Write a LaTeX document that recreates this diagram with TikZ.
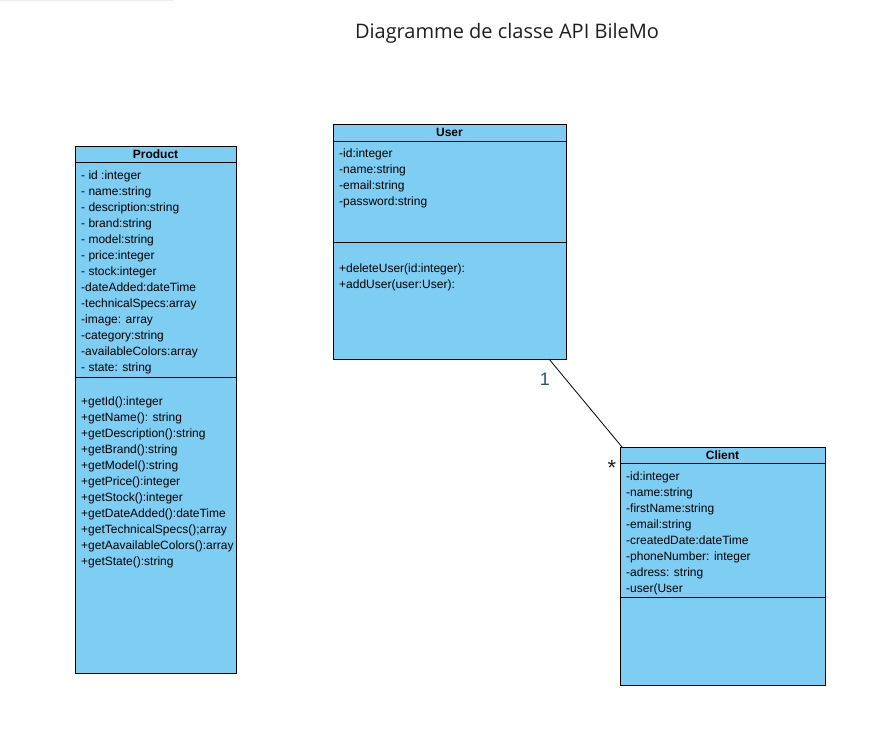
\documentclass[tikz,border=0pt]{standalone}
\usepackage{fontspec}
\setmainfont{Liberation Sans}
\newfontfamily\titlefont{Open Sans}
\definecolor{boxfill}{RGB}{126,206,244}
\definecolor{titlecol}{RGB}{30,30,30}
\definecolor{onecol}{RGB}{40,80,140}
\begin{document}
\begin{tikzpicture}[x=1pt,y=-1pt,
  box/.style={draw=black,fill=boxfill,line width=0.9pt,anchor=north west,inner sep=0pt,outer sep=0pt},
  hdr/.style={font=\fontsize{12}{14}\selectfont\bfseries,text=black},
  txt/.style={anchor=north west,inner sep=0pt,align=left,font=\fontsize{12}{16}\selectfont,text=black}]
\useasboundingbox (0,0) rectangle (895,732);
\draw[gray!15,line width=1pt] (0,0.5) -- (173,0.5);
\node[font=\titlefont\fontsize{20}{24}\selectfont,text=titlecol] (title) at (507,33) {Diagramme de classe API BileMo};
% Product
\node[box,minimum width=161pt,minimum height=16pt] (prodH) at (75,146) {};
\node[hdr] (prodHt) at (prodH.center) {Product};
\node[box,minimum width=161pt,minimum height=215pt] (prodA) at (75,162) {};
\node[box,minimum width=161pt,minimum height=296pt] (prodM) at (75,377) {};
\node[txt] (prodAt) at (81,171) {- id :integer\\- name:string\\- description:string\\- brand:string\\- model:string\\- price:integer\\- stock:integer\\-dateAdded:dateTime\\-technicalSpecs:array\\-image: array\\-category:string\\-availableColors:array\\- state: string};
\node[txt] (prodMt) at (81,397) {+getId():integer\\+getName(): string\\+getDescription():string\\+getBrand():string\\+getModel():string\\+getPrice():integer\\+getStock():integer\\+getDateAdded():dateTime\\+getTechnicalSpecs();array\\+getAavailableColors():array\\+getState():string};
% User
\node[box,minimum width=233pt,minimum height=17pt] (userH) at (333,124) {};
\node[hdr] (userHt) at (userH.center) {User};
\node[box,minimum width=233pt,minimum height=101pt] (userA) at (333,141) {};
\node[box,minimum width=233pt,minimum height=117pt] (userM) at (333,242) {};
\node[txt] (userAt) at (339,149) {-id:integer\\-name:string\\-email:string\\-password:string};
\node[txt] (userMt) at (339,264) {+deleteUser(id:integer):\\+addUser(user:User):};
% Client
\node[box,minimum width=205pt,minimum height=16pt] (clientH) at (620,447) {};
\node[hdr] (clientHt) at (clientH.center) {Client};
\node[box,minimum width=205pt,minimum height=134pt] (clientA) at (620,463) {};
\node[box,minimum width=205pt,minimum height=88pt] (clientM) at (620,597) {};
\node[txt] (clientAt) at (626,472) {-id:integer\\-name:string\\-firstName:string\\-email:string\\-createdDate:dateTime\\-phoneNumber: integer\\-adress: string\\-user(User};
% association
\draw[black,line width=0.8pt] ([xshift=-17pt]userM.south east) -- ([xshift=2pt]clientH.north west);
\node[text=onecol,font=\fontsize{18}{20}\selectfont] (one) at (545,379) {1};
\node[text=titlecol,font=\fontsize{22}{22}\selectfont] (star) at (612,468) {*};
\end{tikzpicture}
\end{document}
